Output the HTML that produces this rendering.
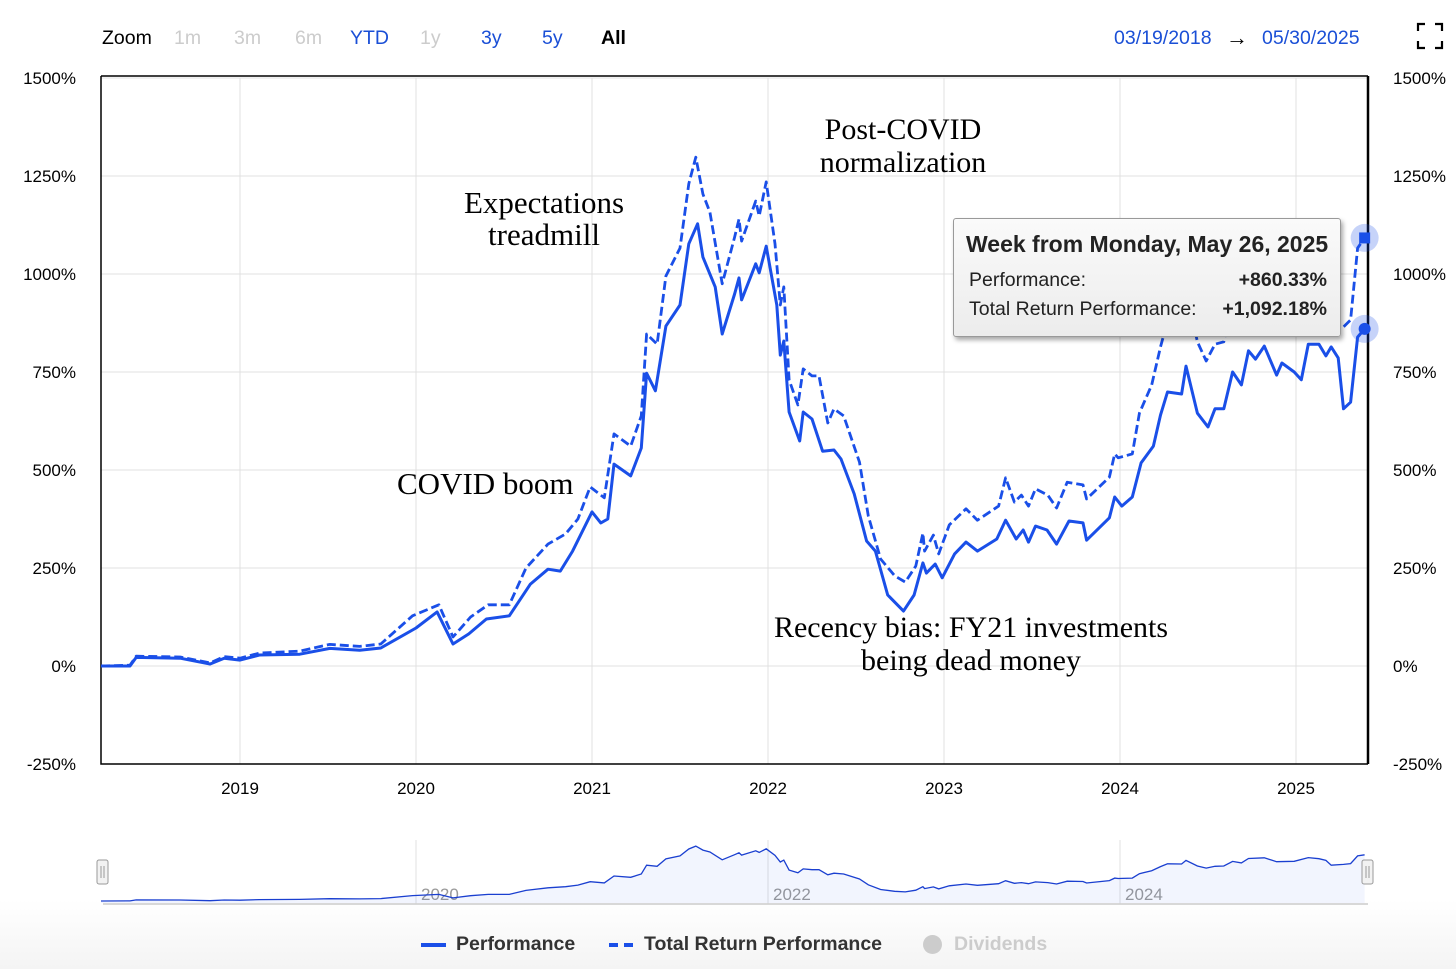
<!DOCTYPE html>
<html><head><meta charset="utf-8">
<style>
body{margin:0;background:#fff;width:1456px;height:969px;overflow:hidden;font-family:"Liberation Sans",Arial,sans-serif;}
#wrap{position:relative;width:1456px;height:969px;background:linear-gradient(#fff 0,#fff 900px,#f4f4f4 969px);}
.t{position:absolute;white-space:nowrap;}
.zb{font-size:19.5px;top:27px;}
</style></head>
<body>
<div id="wrap">
<div class="t zb" style="left:102px;color:#000">Zoom</div>
<div class="t zb" style="left:174px;color:#ccc">1m</div>
<div class="t zb" style="left:234px;color:#ccc">3m</div>
<div class="t zb" style="left:295px;color:#ccc">6m</div>
<div class="t zb" style="left:350px;color:#1a4fd6">YTD</div>
<div class="t zb" style="left:420px;color:#ccc">1y</div>
<div class="t zb" style="left:481px;color:#1a4fd6">3y</div>
<div class="t zb" style="left:542px;color:#1a4fd6">5y</div>
<div class="t zb" style="left:601px;color:#000;font-weight:bold">All</div>
<div class="t zb" style="left:1114px;color:#1a4fd6">03/19/2018</div>
<div class="t zb" style="left:1226px;color:#000;font-size:22px;top:25px">→</div>
<div class="t zb" style="left:1262px;color:#1a4fd6">05/30/2025</div>
<svg class="t" style="left:1416px;top:22px" width="28" height="28">
<path d="M2 9V2H9M19 2H26V9M26 19V26H19M9 26H2V19" fill="none" stroke="#000" stroke-width="2.2"/></svg>

<svg id="chart" class="t" style="left:0;top:0" width="1456" height="969"></svg>

<div class="t" style="left:953px;top:218px;width:386px;height:117px;background:linear-gradient(#fafafa,#ececec);border:1px solid #999;border-radius:3px;box-shadow:2px 3px 5px rgba(0,0,0,.35);">
<div class="t" style="left:12px;top:12px;font-size:23px;font-weight:bold;color:#222">Week from Monday, May 26, 2025</div>
<div class="t" style="left:15px;top:50px;font-size:19.5px;color:#222">Performance:</div>
<div class="t" style="right:13px;top:50px;font-size:19.5px;font-weight:bold;color:#222">+860.33%</div>
<div class="t" style="left:15px;top:79px;font-size:19.5px;color:#222">Total Return Performance:</div>
<div class="t" style="right:13px;top:79px;font-size:19.5px;font-weight:bold;color:#222">+1,092.18%</div>
</div>

<div class="t" style="left:421px;top:943px;width:25px;height:4px;background:#1a4fe8"></div>
<div class="t" style="left:456px;top:933px;font-size:19.5px;font-weight:bold;color:#333">Performance</div>
<div class="t" style="left:609px;top:943px;width:9px;height:4px;background:#1a4fe8;box-shadow:15px 0 0 #1a4fe8"></div>
<div class="t" style="left:644px;top:933px;font-size:19.5px;font-weight:bold;color:#333">Total Return Performance</div>
<div class="t" style="left:923px;top:935px;width:19px;height:19px;border-radius:50%;background:#ccc"></div>
<div class="t" style="left:954px;top:933px;font-size:19.5px;font-weight:bold;color:#ccc">Dividends</div>
</div>
<script>
const yTicks=[1500,1250,1000,750,500,250,0,-250];
const xYears=[2019,2020,2021,2022,2023,2024,2025];
const navYears=[2020,2022,2024];
const perfDates=[2018.21,2018.375,2018.41,2018.66,2018.83,2018.91,2019.0,2019.11,2019.34,2019.51,2019.68,2019.80,2020.0,2020.12,2020.21,2020.30,2020.40,2020.53,2020.65,2020.75,2020.82,2020.89,2021.0,2021.05,2021.09,2021.125,2021.22,2021.28,2021.31,2021.36,2021.42,2021.50,2021.55,2021.60,2021.63,2021.70,2021.74,2021.81,2021.835,2021.85,2021.93,2021.95,2021.99,2022.05,2022.07,2022.09,2022.12,2022.18,2022.20,2022.25,2022.31,2022.375,2022.415,2022.49,2022.56,2022.61,2022.68,2022.77,2022.83,2022.88,2022.90,2022.95,2022.99,2023.06,2023.125,2023.19,2023.30,2023.35,2023.41,2023.45,2023.48,2023.52,2023.585,2023.64,2023.71,2023.79,2023.81,2023.94,2023.97,2024.01,2024.07,2024.12,2024.19,2024.23,2024.27,2024.35,2024.375,2024.44,2024.50,2024.54,2024.59,2024.64,2024.69,2024.73,2024.77,2024.82,2024.89,2024.92,2024.99,2025.03,2025.07,2025.13,2025.17,2025.20,2025.24,2025.27,2025.31,2025.35,2025.39];
const perfValues=[0,0,22,20,5,20,15,28,30,45,40,46,97,138,56,82,120,128,209,247,242,293,393,365,375,515,485,556,747,702,867,921,1077,1128,1043,967,847,949,990,934,1026,1003,1071,921,793,829,648,574,648,630,548,551,528,439,319,293,181,140,181,263,237,260,225,286,316,293,324,372,324,347,316,357,347,311,370,365,321,378,431,408,431,518,561,640,699,694,765,645,610,656,656,750,717,804,783,816,742,773,750,730,821,821,791,814,786,656,673,839,860];
const totalDates=[2018.21,2018.375,2018.41,2018.66,2018.83,2018.91,2019.0,2019.11,2019.34,2019.51,2019.68,2019.80,2019.98,2020.13,2020.21,2020.31,2020.41,2020.53,2020.625,2020.75,2020.85,2020.92,2020.99,2021.07,2021.125,2021.22,2021.28,2021.31,2021.37,2021.42,2021.50,2021.55,2021.59,2021.63,2021.67,2021.74,2021.81,2021.835,2021.85,2021.93,2021.95,2021.99,2022.04,2022.07,2022.09,2022.12,2022.17,2022.20,2022.25,2022.29,2022.34,2022.375,2022.43,2022.52,2022.57,2022.64,2022.72,2022.78,2022.84,2022.88,2022.89,2022.94,2022.97,2023.03,2023.125,2023.19,2023.31,2023.35,2023.40,2023.44,2023.48,2023.52,2023.59,2023.64,2023.70,2023.79,2023.81,2023.94,2023.97,2023.99,2024.07,2024.11,2024.18,2024.23,2024.27,2024.35,2024.375,2024.44,2024.49,2024.54,2024.59,2024.64,2024.69,2024.73,2024.82,2024.89,2024.99,2025.07,2025.13,2025.17,2025.20,2025.27,2025.31,2025.35,2025.39];
const totalValues=[0,2,25,23,8,24,20,33,38,55,50,56,128,156,74,125,156,156,250,311,337,375,457,429,592,561,638,847,821,995,1066,1230,1298,1204,1158,975,1094,1140,1084,1186,1148,1235,1077,921,967,730,666,758,740,740,620,656,638,520,383,273,230,214,255,339,293,334,286,360,401,372,408,480,418,436,408,452,436,403,469,462,426,482,541,531,541,645,717,814,880,875,960,827,778,821,827,937,900,1005,1020,928,938,1026,1000,960,847,865,883,1066,1092];

const svg=document.getElementById('chart');
const NS='http://www.w3.org/2000/svg';
const X0=101,X1=1368,Y0=78,Y1=764;
const dMin=2018.21,dMax=2025.41;
function xs(d){return 240+(d-2019)*176;}
function ys(v){return 666-v*98/250;}
function nys(v){return 901-v*55/1300;}
function el(tag,attrs,parent){const e=document.createElementNS(NS,tag);for(const k in attrs)e.setAttribute(k,attrs[k]);(parent||svg).appendChild(e);return e;}

yTicks.forEach(v=>{
  const g=el('line',{x1:X0,x2:X1,y1:ys(v),y2:ys(v),stroke:'#e0e0e0','stroke-width':1});
  
  
  const l=el('text',{x:76,y:ys(v)+6,'text-anchor':'end','font-size':17,fill:'#000'});
  l.textContent=v+'%';
  
  
  const r=el('text',{x:1393,y:ys(v)+6,'font-size':17,fill:'#000'});
  r.textContent=v+'%';
  
  
});
xYears.forEach(yr=>{
  const g=el('line',{x1:xs(yr),x2:xs(yr),y1:Y0,y2:Y1,stroke:'#e0e0e0','stroke-width':1});
  
  
  const t=el('text',{x:xs(yr),y:794,'text-anchor':'middle','font-size':17,fill:'#000'});
  t.textContent=yr;
  
  
});
const frame=el('path',{d:`M${X0} ${Y0-2}H${X1}M${X0} ${Y0-2}V${Y1}H${X1}`,stroke:'#000','stroke-width':1.5,fill:'none'});


const rax=el('line',{x1:X1,x2:X1,y1:Y0-2,y2:Y1,stroke:'#000','stroke-width':2.5});



function pathOf(ds,vs,yf){return ds.map((d,i)=>(i?'L':'M')+xs(d).toFixed(1)+' '+yf(vs[i]).toFixed(1)).join('');}
const tl=el('path',{d:pathOf(totalDates,totalValues,ys),fill:'none',stroke:'#1a4fe8','stroke-width':2.8,'stroke-dasharray':'9 4','stroke-linejoin':'round'});


const pl=el('path',{d:pathOf(perfDates,perfValues,ys),fill:'none',stroke:'#1a4fe8','stroke-width':3,'stroke-linejoin':'round'});



const ann=[['Post-COVID',903,139,'middle',30],['normalization',903,172,'middle',30],['Expectations',544,213,'middle',31],['treadmill',544,245,'middle',31],['COVID boom',397,494,'start',31],['Recency bias: FY21 investments',971,637,'middle',30],['being dead money',971,670,'middle',30]];
ann.forEach(a=>{
  const t=el('text',{x:a[1],y:a[2],'text-anchor':a[3],'font-size':a[4],'font-family':'"Liberation Serif",serif',fill:'#000'});
  t.textContent=a[0];
  
  
});

const lastT=totalValues[totalValues.length-1],lastP=perfValues[perfValues.length-1],lastD=totalDates[totalDates.length-1];
const h1=el('circle',{cx:xs(lastD),cy:ys(lastT),r:14,fill:'#1a4fe8','fill-opacity':0.25});


const m1=el('rect',{x:xs(lastD)-5.5,y:ys(lastT)-5.5,width:11,height:11,fill:'#1a4fe8'});


const h2=el('circle',{cx:xs(lastD),cy:ys(lastP),r:14,fill:'#1a4fe8','fill-opacity':0.25});


const m2=el('circle',{cx:xs(lastD),cy:ys(lastP),r:6,fill:'#1a4fe8'});



// navigator
navYears.forEach(yr=>{
  const g=el('line',{x1:xs(yr),x2:xs(yr),y1:840,y2:904,stroke:'#e0e0e0'});
  
  
  const t=el('text',{x:xs(yr)+5,y:900,'font-size':17,fill:'#999'});
  t.textContent=yr;
  
  
});
const nl=pathOf(totalDates,totalValues,nys);
const na=el('path',{d:nl+`L${xs(lastD)} 903L${xs(dMin)} 903Z`,fill:'#1a4fe8','fill-opacity':0.06});


const nline=el('path',{d:nl,fill:'none',stroke:'#1a3fd0','stroke-width':1.3});


const nb=el('line',{x1:103,x2:1368,y1:904,y2:904,stroke:'#ccc','stroke-width':1.5});


[[103,'navigator-left-handle'],[1368,'navigator-right-handle']].forEach(h=>{
  const r=el('rect',{x:h[0]-6,y:860,width:11,height:24,rx:2,fill:'#f2f2f2',stroke:'#999'});
  
  
  el('path',{d:`M${h[0]-2} 866V878M${h[0]+1} 866V878`,stroke:'#999'});
});
</script>
</body></html>
